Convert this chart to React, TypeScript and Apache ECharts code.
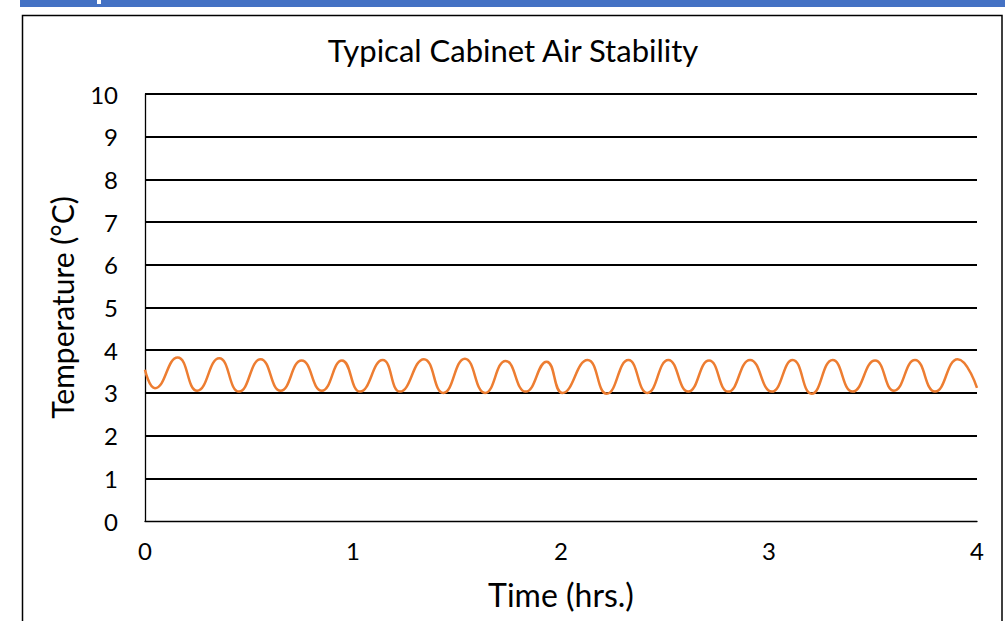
import React, { useEffect, useRef } from "react";
import * as echarts from "echarts";

const timeHrs = [
  0, 0.048, 0.157, 0.251, 0.357, 0.452, 0.556, 0.652, 0.753, 0.85, 0.947,
  1.034, 1.143, 1.226, 1.341, 1.434, 1.538, 1.635, 1.734, 1.83, 1.931,
  2.007, 2.128, 2.22, 2.324, 2.415, 2.516, 2.612, 2.712, 2.804, 2.909,
  3.013, 3.114, 3.205, 3.306, 3.402, 3.51, 3.601, 3.702, 3.798, 3.907, 4.0,
];
const tempC = [
  3.54, 3.11, 3.83, 3.05, 3.81, 3.03, 3.79, 3.05, 3.76, 3.05, 3.76,
  3.03, 3.77, 3.03, 3.79, 3.0, 3.8, 3.0, 3.75, 3.03, 3.73,
  3.0, 3.77, 2.98, 3.77, 3.0, 3.77, 3.03, 3.76, 3.03, 3.77,
  3.03, 3.77, 2.98, 3.77, 3.03, 3.76, 3.05, 3.77, 3.03, 3.79, 3.12,
];
const titleText = "Typical Cabinet Air Stability";
const xName = "Time (hrs.)";
const yName = "Temperature (°C)";

const FONT = "Lato";

export default function App() {
  const ref = useRef<HTMLDivElement>(null);
  useEffect(() => {
    if (!ref.current) return;
    const chart = echarts.init(ref.current, undefined, { renderer: "svg" });
    chart.setOption({
      animation: false,
      backgroundColor: "#ffffff",
      title: {
        text: titleText,
        left: 508,
        textAlign: "center",
        top: 29,
        textStyle: { fontFamily: FONT, fontSize: 31, fontWeight: "normal", color: "#000" },
      },
      graphic: [
        { type: "rect", shape: { x: 20, y: 0, width: 985, height: 7 }, style: { fill: "#4472C4" } },
        { type: "rect", shape: { x: 97, y: 0, width: 4, height: 4 }, style: { fill: "#ffffff" } },
        {
          type: "rect",
          shape: { x: 22.5, y: 15.5, width: 979.5, height: 620 },
          style: { fill: "none", stroke: "#000", lineWidth: 1.5 },
          z: 10,
        },
      ],
      grid: { left: 145, right: 28, top: 94, bottom: 100, containLabel: false },
      xAxis: {
        type: "value",
        min: 0,
        max: 4,
        interval: 1,
        name: xName,
        nameLocation: "middle",
        nameGap: 57,
        nameTextStyle: { fontFamily: FONT, fontSize: 32, color: "#000" },
        axisLine: { show: true, lineStyle: { color: "#000", width: 1.3 } },
        axisTick: { show: false },
        splitLine: { show: false },
        axisLabel: { fontFamily: FONT, fontSize: 24, color: "#000", margin: 17 },
      },
      yAxis: {
        type: "value",
        min: 0,
        max: 10,
        interval: 1,
        name: yName,
        nameLocation: "middle",
        nameRotate: 90,
        nameGap: 68,
        nameTextStyle: { fontFamily: FONT, fontSize: 30, color: "#000" },
        axisLine: { show: true, lineStyle: { color: "#000", width: 1.3 } },
        axisTick: { show: false },
        splitLine: { show: true, showMinLine: false, lineStyle: { color: "#000", width: 2 } },
        axisLabel: { fontFamily: FONT, fontSize: 24, color: "#000", margin: 27 },
      },
      series: [
        {
          type: "line",
          data: timeHrs.map((t, i) => [t, tempC[i]]),
          smooth: true,
          showSymbol: false,
          lineStyle: { color: "#ED7D31", width: 2.5 },
          itemStyle: { color: "#ED7D31" },
        },
      ],
    });
    return () => chart.dispose();
  }, []);
  return (
    <div
      ref={ref}
      style={{ position: "fixed", left: 0, top: 0, width: 1005, height: 621 }}
    />
  );
}
